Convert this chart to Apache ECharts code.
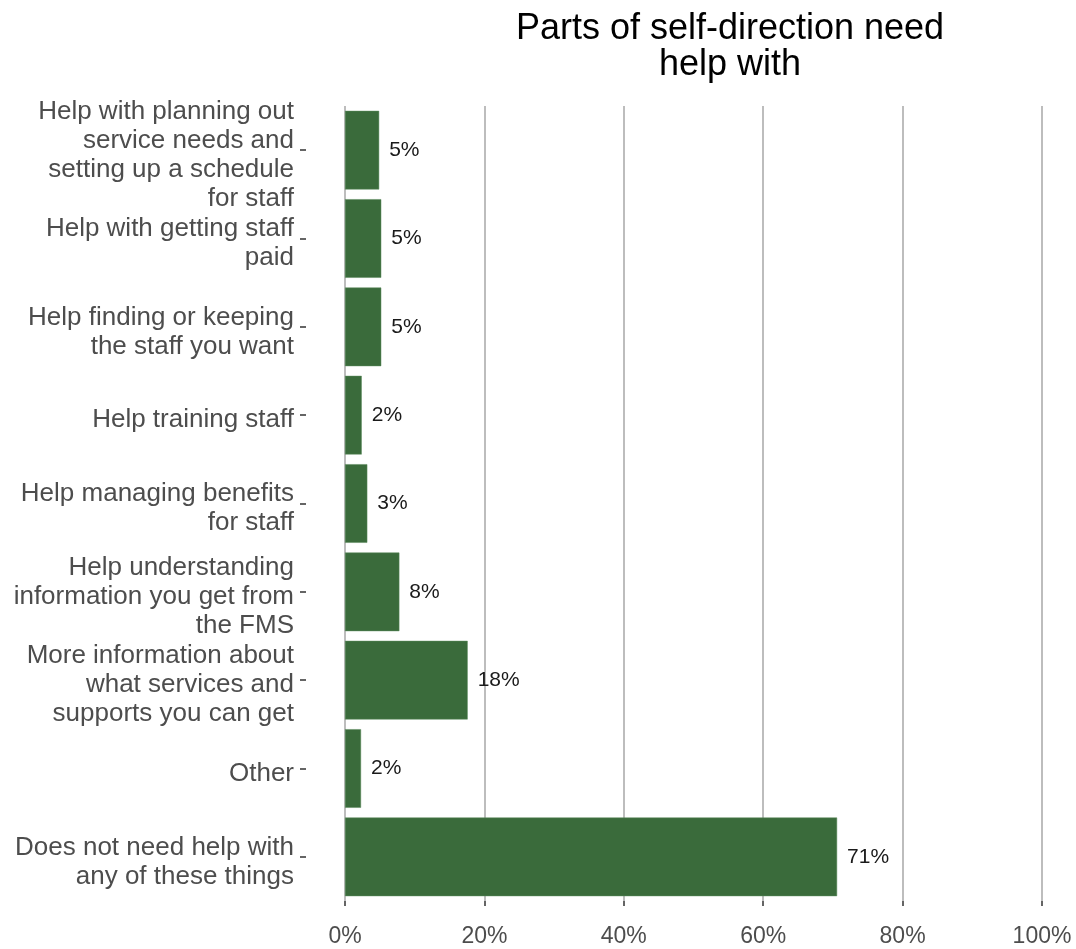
<!DOCTYPE html>
<html>
<head>
<meta charset="utf-8">
<script src="https://cdn.jsdelivr.net/npm/echarts@6/dist/echarts.min.js"></script>
<style>
html,body{margin:0;padding:0;background:#fff;}
#chart{width:1076px;height:949px;}
</style>
</head>
<body>
<div id="chart"></div>
<script>
const categories = [
  "Help with planning out\nservice needs and\nsetting up a schedule\nfor staff",
  "Help with getting staff\npaid",
  "Help finding or keeping\nthe staff you want",
  "Help training staff",
  "Help managing benefits\nfor staff",
  "Help understanding\ninformation you get from\nthe FMS",
  "More information about\nwhat services and\nsupports you can get",
  "Other",
  "Does not need help with\nany of these things"
];
const values = [4.9, 5.2, 5.2, 2.4, 3.2, 7.8, 17.6, 2.3, 70.6];
const xTicks = [0, 20, 40, 60, 80, 100];
const titleText = "Parts of self-direction need\nhelp with";

const FONT = 'Liberation Sans, Arial, sans-serif';
const chart = echarts.init(document.getElementById('chart'));
chart.setOption({
  animation: false,
  backgroundColor: '#ffffff',
  title: {
    text: titleText,
    left: 725,
    top: 6,
    textAlign: 'center',
    textStyle: {
      fontFamily: FONT,
      fontSize: 36,
      fontWeight: 'normal',
      color: '#000',
      lineHeight: 36
    }
  },
  grid: [
    { left: 345, right: 34, top: 106, bottom: 48, containLabel: false },
    { left: 306, right: 731, top: 106, bottom: 48, containLabel: false },
    { left: 345, right: 34, top: 111, bottom: 43, containLabel: false }
  ],
  xAxis: [{
    type: 'value',
    gridIndex: 0,
    min: xTicks[0],
    max: xTicks[xTicks.length - 1],
    interval: 20,
    axisLine: { show: false },
    axisTick: { show: true, length: 5, lineStyle: { color: '#333', width: 1.5 } },
    axisLabel: {
      formatter: v => v + '%',
      fontFamily: FONT,
      fontSize: 23,
      color: '#4d4d4d',
      margin: 24
    },
    splitLine: { show: true, lineStyle: { color: '#bdbdbd', width: 2 } }
  }, {
    type: 'value',
    gridIndex: 1,
    show: false
  }, {
    type: 'value',
    gridIndex: 2,
    show: false
  }],
  yAxis: [{
    type: 'category',
    gridIndex: 0,
    data: categories,
    inverse: true,
    axisLine: { show: false },
    axisTick: { show: false },
    axisLabel: { show: false },
    splitLine: { show: false }
  }, {
    type: 'category',
    gridIndex: 1,
    data: categories,
    inverse: true,
    axisLine: { show: false },
    axisTick: { show: true, interval: 0, alignWithLabel: true, length: 6, lineStyle: { color: '#333', width: 1.5 } },
    axisLabel: { show: false, interval: 0 },
    splitLine: { show: false }
  }, {
    type: 'category',
    gridIndex: 2,
    data: categories,
    inverse: true,
    axisLine: { show: false },
    axisTick: { show: false },
    axisLabel: {
      interval: 0,
      hideOverlap: false,
      fontFamily: FONT,
      fontSize: 26,
      lineHeight: 29,
      color: '#4d4d4d',
      align: 'right',
      margin: 51
    },
    splitLine: { show: false }
  }],
  series: [{
    type: 'bar',
    xAxisIndex: 0,
    yAxisIndex: 0,
    data: values,
    barCategoryGap: '11%',
    itemStyle: { color: '#3a6b3b', borderColor: '#5b8a5c', borderWidth: 0.5 },
    label: {
      show: true,
      position: 'right',
      distance: 10,
      formatter: p => Math.round(p.value) + '%',
      fontFamily: FONT,
      fontSize: 21,
      color: '#1a1a1a'
    }
  }]
});
</script>
</body>
</html>
